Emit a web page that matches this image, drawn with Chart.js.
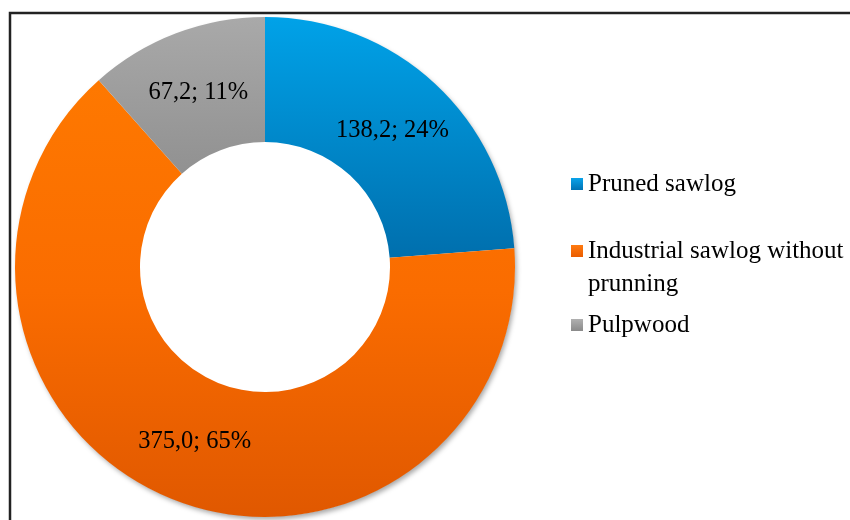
<!DOCTYPE html>
<html>
<head>
<meta charset="utf-8">
<script src="https://cdn.jsdelivr.net/npm/chart.js@4.4.1/dist/chart.umd.min.js"></script>
<style>
  html, body { margin: 0; padding: 0; background: #ffffff; }
  #wrap { position: relative; width: 850px; height: 520px; }
</style>
</head>
<body>
<div id="wrap"><canvas id="c" width="850" height="520"></canvas></div>
<script>
// ---- data ----
const categories = ['Pruned sawlog', 'Industrial sawlog without prunning', 'Pulpwood'];
const volumes = [138.2, 375.0, 67.2];
const percentLabels = [24, 65, 11];

// ---- styles ----
const sliceStops = [
  [[0, '#00a2e8'], [0.5, '#006dab'], [1, '#005a90']],
  [[0, '#ff7c00'], [0.55, '#fa6c00'], [1, '#e05800']],
  [[0, '#a9a9a9'], [0.35, '#8e8e8e'], [1, '#707070']]
];
const markerStops = [
  [[0, '#0aa3ea'], [1, '#0072b4']],
  [[0, '#ff7a10'], [1, '#ea5c00']],
  [[0, '#b0b0b0'], [1, '#8a8a8a']]
];
const FONT = '"Liberation Serif", "Times New Roman", serif';

function sliceColor(ctx) {
  const chart = ctx.chart;
  const area = chart.chartArea;
  const stops = sliceStops[ctx.dataIndex];
  if (!area) return stops[0][1];
  const g = chart.ctx.createLinearGradient(0, area.top, 0, area.bottom);
  stops.forEach(s => g.addColorStop(s[0], s[1]));
  return g;
}

const framePlugin = {
  id: 'frame',
  afterDraw(chart) {
    const c = chart.ctx;
    c.save();
    c.strokeStyle = '#222222';
    c.lineWidth = 2.5;
    c.beginPath();
    c.moveTo(10, 522);
    c.lineTo(10, 13);
    c.lineTo(852, 13);
    c.stroke();
    c.restore();
  }
};

const shadowPlugin = {
  id: 'ringShadow',
  beforeDatasetsDraw(chart) {
    const arc = chart.getDatasetMeta(0).data[0];
    if (!arc) return;
    const c = chart.ctx;
    c.save();
    c.shadowColor = 'rgba(0,0,0,0.35)';
    c.shadowBlur = 5;
    c.shadowOffsetX = 2;
    c.shadowOffsetY = 3;
    c.fillStyle = '#ffffff';
    c.beginPath();
    c.arc(arc.x, arc.y, arc.outerRadius - 0.5, 0, Math.PI * 2);
    c.fill();
    c.restore();
  }
};

const sliceLabelPlugin = {
  id: 'sliceLabels',
  afterDatasetsDraw(chart) {
    const c = chart.ctx;
    const meta = chart.getDatasetMeta(0);
    c.save();
    c.font = '24.5px ' + FONT;
    c.fillStyle = '#000000';
    c.textAlign = 'center';
    c.textBaseline = 'middle';
    meta.data.forEach((arc, i) => {
      const p = arc.tooltipPosition();
      const txt = volumes[i].toFixed(1).replace('.', ',') + '; ' + percentLabels[i] + '%';
      c.fillText(txt, p.x, p.y + 1);
    });
    c.restore();
  }
};

const legendPlugin = {
  id: 'sideLegend',
  afterDraw(chart, args, opts) {
    const c = chart.ctx;
    c.save();
    c.font = '25px ' + FONT;
    c.fillStyle = '#000000';
    c.textAlign = 'left';
    c.textBaseline = 'middle';
    categories.forEach((label, i) => {
      const words = label.split(' ');
      const lines = [];
      let cur = '';
      words.forEach(w => {
        const test = cur ? cur + ' ' + w : w;
        if (c.measureText(test).width > opts.maxWidth && cur) { lines.push(cur); cur = w; }
        else cur = test;
      });
      if (cur) lines.push(cur);
      const y0 = opts.rowY[i];
      const m = opts.marker;
      const g = c.createLinearGradient(0, y0 - m / 2, 0, y0 + m / 2);
      markerStops[i].forEach(s => g.addColorStop(s[0], s[1]));
      c.fillStyle = g;
      c.fillRect(opts.markerX, y0 - m / 2, m, m);
      c.fillStyle = '#000000';
      lines.forEach((ln, k) => c.fillText(ln, opts.textX, y0 + k * opts.lineHeight));
    });
    c.restore();
  }
};

new Chart(document.getElementById('c'), {
  type: 'doughnut',
  data: {
    labels: categories,
    datasets: [{
      data: volumes,
      backgroundColor: sliceColor,
      borderWidth: 0,
      hoverOffset: 0,
      offset: 0
    }]
  },
  options: {
    responsive: false,
    animation: false,
    events: [],
    cutout: '50%',
    rotation: 0,
    layout: { padding: { left: 15, right: 335, top: 17, bottom: 3 } },
    plugins: {
      legend: { display: false },
      tooltip: { enabled: false },
      sideLegend: {
        rowY: [184, 251, 325],
        lineHeight: 33,
        markerX: 571,
        marker: 12,
        textX: 588,
        maxWidth: 268
      }
    }
  },
  plugins: [framePlugin, shadowPlugin, sliceLabelPlugin, legendPlugin]
});
</script>
</body>
</html>
